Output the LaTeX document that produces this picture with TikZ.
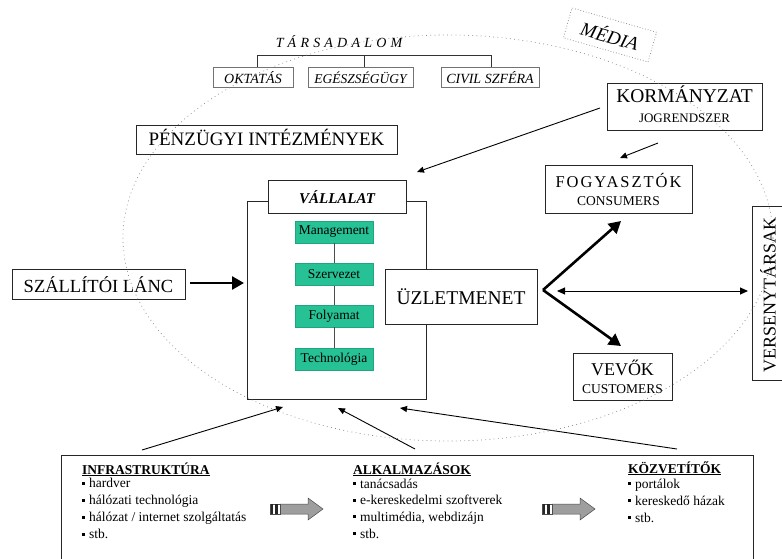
\documentclass[tikz,border=0pt]{standalone}
\usepackage{fontspec}
\setmainfont{Liberation Serif}
\usetikzlibrary{arrows.meta}
\definecolor{grn}{RGB}{38,194,150}
\definecolor{dotgray}{RGB}{135,135,135}
\begin{document}
\begin{tikzpicture}[x=1pt,y=-1pt,
  bx/.style={draw=black!85,line width=0.9pt,fill=white,inner sep=0pt},
  sbx/.style={draw=black!55,line width=0.6pt,fill=white,inner sep=0pt,minimum height=20pt},
  gbx/.style={fill=grn,draw=grn!85!black,line width=0.3pt,minimum width=78pt,minimum height=22pt,inner sep=0pt,font=\fontsize{13.5}{14}\selectfont},
  lbl/.style={anchor=base,inner sep=0pt},
  bigarrow/.style={line width=2.6pt,-{Triangle[length=12pt,width=13pt]}},
  thinarrow/.style={line width=0.9pt,-{Triangle[length=7pt,width=6pt]}},
  dotline/.style={dotgray,line width=0.7pt,dash pattern=on 0.8pt off 3.4pt},
  itemtxt/.style={anchor=base west,inner sep=0pt,font=\fontsize{13.5}{15}\selectfont},
  headtxt/.style={anchor=base west,inner sep=0pt,font=\bfseries\fontsize{13.5}{15}\selectfont},
  blockarrow/.pic={
    \draw[black!70,line width=0.5pt,fill=black!38] (10,-5)--(38,-5)--(38,-11)--(53,0)--(38,11)--(38,5)--(10,5)--cycle;
    \draw[black!70,line width=0.4pt,fill=white] (0,-5) rectangle (10,5);
    \fill[black!85] (0.5,-5) rectangle (3,5);
    \fill[black!85] (5,-5) rectangle (7.5,5);
  }
]
\useasboundingbox (0,0) rectangle (782,559);

% --- TARSADALOM ---
\node[lbl,font=\itshape\fontsize{14}{16}\selectfont\addfontfeature{LetterSpace=30}] (tars) at (339,48) {TÁRSADALOM};
\node[sbx,minimum width=80] (okt) at (253,77) {};
\node[sbx,minimum width=105] (egesz) at (360.5,77) {};
\node[sbx,minimum width=98] (civil) at (490,77) {};
\node[lbl,font=\itshape\fontsize{14}{16}\selectfont] at (253,84) {OKTATÁS};
\node[lbl,font=\itshape\fontsize{13.5}{16}\selectfont] at (360.5,84) {EGÉSZSÉGÜGY};
\node[lbl,font=\itshape\fontsize{14}{16}\selectfont] at (490,84) {CIVIL SZFÉRA};
\coordinate (brL) at (257,55);
\coordinate (brR) at (491,55);
\coordinate (brM) at (364,55);
\draw[black!80,line width=0.8pt] (okt.north -| brL) -- (brL) -- (brR) -- (civil.north -| brR);
\draw[black!80,line width=0.8pt] (egesz.north -| brM) -- (brM);

% --- MEDIA ---
\node[draw=dotgray,dash pattern=on 0.8pt off 2pt,line width=0.7pt,rotate=-16,minimum width=88pt,minimum height=31pt,inner sep=0pt,font=\itshape\fontsize{19}{20}\selectfont] (media) at (610,35) {MÉDIA};

% --- KORMANYZAT ---
\node[bx,minimum width=155,minimum height=47] (korm) at (684.5,106.5) {};
\node[lbl,font=\fontsize{19.5}{20}\selectfont] (kormt) at (684.5,103) {KORMÁNYZAT};
\node[lbl,font=\fontsize{13}{14}\selectfont] (jog) at (684.5,123) {JOGRENDSZER};

% --- PENZUGYI ---
\node[bx,minimum width=261,minimum height=29] (penz) at (266.5,139.5) {};
\node[lbl,font=\fontsize{19}{20}\selectfont] at (266.5,146) {PÉNZÜGYI INTÉZMÉNYEK};

% --- VALLALAT ---
\node[bx,minimum width=179,minimum height=198] (vall) at (336.5,300) {};
\node[bx,minimum width=138,minimum height=33] (vallab) at (337,197) {};
\node[lbl,font=\bfseries\itshape\fontsize{15}{16}\selectfont] at (337,203) {VÁLLALAT};
\node[gbx] (mgmt) at (334,232) {Management};
\node[gbx] (szerv) at (334,274.5) {Szervezet};
\node[gbx] (foly) at (334,316) {Folyamat};
\node[gbx] (tech) at (334,359) {Technológia};
\draw[black!70,line width=0.9pt] (mgmt) -- (szerv) -- (foly) -- (tech);

% --- UZLETMENET ---
\node[bx,minimum width=152,minimum height=55] (uzlet) at (461,296.5) {};
\node[lbl,font=\fontsize{19.5}{20}\selectfont] at (461,304) {ÜZLETMENET};

% --- SZALLITOI LANC ---
\node[bx,minimum width=173,minimum height=30] (szall) at (98.5,284) {};
\node[lbl,font=\fontsize{18.5}{20}\selectfont] at (98.5,292) {SZÁLLÍTÓI LÁNC};
\coordinate (szallS) at (190,283);
\coordinate (vallW) at (244,283);
\draw[bigarrow] (szallS) -- (vallW);

% --- FOGYASZTOK ---
\node[bx,minimum width=147,minimum height=48] (fogy) at (618.5,189) {};
\node[lbl,font=\fontsize{16.5}{18}\selectfont\addfontfeature{LetterSpace=12}] at (618.5,187) {FOGYASZTÓK};
\node[lbl,font=\fontsize{13.5}{14}\selectfont] at (618.5,205) {CONSUMERS};

% --- VEVOK ---
\node[bx,minimum width=99,minimum height=47] (vevok) at (622.5,376.5) {};
\node[lbl,font=\fontsize{18}{20}\selectfont] at (622.5,375) {VEVŐK};
\node[lbl,font=\fontsize{13.5}{14}\selectfont] at (622.5,393) {CUSTOMERS};

% --- VERSENYTARSAK ---
\node[bx,minimum width=174,minimum height=30,rotate=90] (vers) at (767,293) {};
\node[inner sep=0pt,rotate=90,font=\fontsize{18}{20}\selectfont] at (768,294.5) {VERSENYTÁRSAK};

% --- arrows from UZLETMENET ---
\coordinate (fork) at (543,290);
\coordinate (fogyB) at (621,221);
\coordinate (vevT) at (621,346);
\coordinate (versW) at (748,291);
\coordinate (uzR) at (557,291);
\draw[bigarrow] (fork) -- (fogyB);
\draw[bigarrow] (fork) -- (vevT);
\draw[line width=1pt,{Triangle[length=8pt,width=7pt]}-{Triangle[length=8pt,width=7pt]}] (uzR) -- (versW);

% --- KORMANYZAT arrows ---
\coordinate (kA) at (600,108);
\coordinate (vallTR) at (417,172);
\draw[thinarrow] (kA) -- (vallTR);
\coordinate (kB) at (658,143);
\coordinate (fogyT) at (620,158);
\draw[thinarrow] (kB) -- (fogyT);

% --- bottom box ---
\node[bx,minimum width=692,minimum height=107] (bottom) at (407,508.5) {};
\coordinate (a1s) at (142,450);
\coordinate (a1e) at (283,407);
\coordinate (a2s) at (415,449);
\coordinate (a2e) at (338,408);
\coordinate (a3s) at (677,449);
\coordinate (a3e) at (400,408);
\draw[thinarrow] (a1s) -- (a1e);
\draw[thinarrow] (a2s) -- (a2e);
\draw[thinarrow] (a3s) -- (a3e);

\newcommand{\bul}{\rule[3pt]{3pt}{3pt}\hspace{4pt}}
\node[headtxt] at (82,474) {\underline{INFRASTRUKTÚRA}};
\node[itemtxt] at (82,487.5) {\bul hardver};
\node[itemtxt] at (82,504.5) {\bul hálózati technológia};
\node[itemtxt] at (82,521.5) {\bul hálózat / internet szolgáltatás};
\node[itemtxt] at (82,538.5) {\bul stb.};

\node[headtxt] at (353,474) {\underline{ALKALMAZÁSOK}};
\node[itemtxt] at (353,488) {\bul tanácsadás};
\node[itemtxt] at (353,504.5) {\bul e-kereskedelmi szoftverek};
\node[itemtxt] at (353,521) {\bul multimédia, webdizájn};
\node[itemtxt] at (353,538) {\bul stb.};

\node[headtxt] at (628,473) {\underline{KÖZVETÍTŐK}};
\node[itemtxt] at (628,488) {\bul portálok};
\node[itemtxt] at (628,505) {\bul kereskedő házak};
\node[itemtxt] at (628,522) {\bul stb.};

\pic at (270,509) {blockarrow};
\pic at (542,509) {blockarrow};

% --- dotted environment ellipse ---
\draw[dotline] (448,238) ellipse [x radius=325, y radius=203];
\end{tikzpicture}
\end{document}
